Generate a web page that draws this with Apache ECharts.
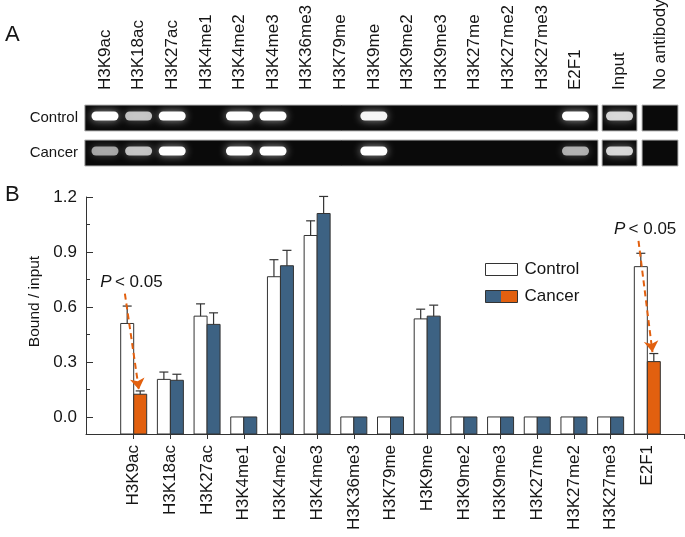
<!DOCTYPE html>
<html><head><meta charset="utf-8">
<script src="https://cdn.jsdelivr.net/npm/echarts@6/dist/echarts.min.js"></script>
<style>html,body{margin:0;padding:0;background:#fff}#c{width:685px;height:537px}</style>
</head><body><div id="c"></div>
<script>
// ---------------- data ----------------
const categories = ['H3K9ac','H3K18ac','H3K27ac','H3K4me1','H3K4me2','H3K4me3','H3K36me3','H3K79me','H3K9me','H3K9me2','H3K9me3','H3K27me','H3K27me2','H3K27me3','E2F1'];
const controlMean = [0.51,0.205,0.55,0,0.765,0.99,0,0,0.535,0,0,0,0,0,0.82];
const controlErr  = [0.095,0.04,0.067,0,0.093,0.08,0,0,0.053,0,0,0,0,0,0.073];
const cancerMean  = [0.124,0.20,0.505,0,0.825,1.11,0,0,0.55,0,0,0,0,0,0.302];
const cancerErr   = [0.018,0.033,0.063,0,0.084,0.093,0,0,0.06,0,0,0,0,0,0.044];
const significant = ['H3K9ac','E2F1'];
const pLabel = '< 0.05';
const yTicks = [0,0.3,0.6,0.9,1.2];
const yMinorTicks = [0.15,0.45,0.75,1.05];
const lanes = ['H3K9ac','H3K18ac','H3K27ac','H3K4me1','H3K4me2','H3K4me3','H3K36me3','H3K79me','H3K9me','H3K9me2','H3K9me3','H3K27me','H3K27me2','H3K27me3','E2F1','Input','No antibody'];
const gelRows = ['Control','Cancer'];
const controlBand = [1,0.7,1,0,1,1,0,0,0.95,0,0,0,0,0,1,0.8,0];
const cancerBand  = [0.55,0.7,1,0,1,1,0,0,1,0,0,0,0,0,0.6,0.8,0];

// ---------------- layout / style ----------------
const FONT = 'Liberation Sans, Arial, sans-serif';
const TXT = '#151515';
const EDGE = '#333';
const BLUE = '#3d6283';
const ORANGE = '#e2600f';
const Y_MIN = -0.093, Y_MAX = 1.2;
const X_MIN = -0.3, X_MAX = 16;
const BAR_W = 13;
const LANE_POS = [0,1,2,3,4,5,6,7,8,9,10,11,12,13,14,15.31,16.52];
const GEL_STRIPS = [[-0.6,14.67],[14.79,15.83],[15.98,17.05]];
const ROW_HALF = 0.371;

const xs = categories.map((c,i)=>i+1);

const errData = [];
categories.forEach((c,i)=>{
  errData.push([xs[i], controlMean[i], controlErr[i], -1]);
  errData.push([xs[i], cancerMean[i], cancerErr[i], 1]);
});

const arrows = [], pTexts = [];
significant.forEach(c=>{
  const i = categories.indexOf(c);
  const ty = controlMean[i] + controlErr[i] + 0.13;
  pTexts.push({coord:[xs[i]-0.06, ty]});
  arrows.push([{coord:[xs[i]-0.24, ty-0.062]},{coord:[xs[i]+0.14, cancerMean[i]+cancerErr[i]+0.008]}]);
});

const stripData = [];
gelRows.forEach((r,ri)=>GEL_STRIPS.forEach(s=>stripData.push([s[0], s[1], ri])));
const bandData = [];
lanes.forEach((l,j)=>{
  bandData.push([LANE_POS[j], 0, controlBand[j]]);
  bandData.push([LANE_POS[j], 1, cancerBand[j]]);
});

const chart = echarts.init(document.getElementById('c'), null, {renderer:'canvas'});
const nearestIdx = (arr, v) => { let b=0; arr.forEach((a,k)=>{ if(Math.abs(a-v)<Math.abs(arr[b]-v)) b=k; }); return b; };

function barRenderer(side){
  return function(params, api){
    const x=api.value(0), v=api.value(1), sig=api.value(2);
    const a=api.coord([x, Y_MIN]), b=api.coord([x, v]);
    const left = a[0] + (side<0 ? -BAR_W : 0);
    const fill = side<0 ? '#fff' : (sig ? ORANGE : BLUE);
    return {type:'rect', shape:{x:left, y:b[1], width:BAR_W, height:a[1]-b[1]},
      style:{fill:fill, stroke:EDGE, lineWidth:1}};
  };
}

chart.setOption({
  animation:false,
  backgroundColor:'#fff',
  textStyle:{fontFamily:FONT},
  title:[
    {text:'A', left:0, top:19, textStyle:{fontSize:22, fontWeight:'normal', color:TXT, fontFamily:FONT}},
    {text:'B', left:0, top:179, textStyle:{fontSize:22, fontWeight:'normal', color:TXT, fontFamily:FONT}}
  ],
  legend:{
    orient:'vertical', left:485, top:261, padding:0, itemWidth:32, itemHeight:12, itemGap:10,
    selectedMode:false,
    textStyle:{fontSize:17, color:TXT, fontFamily:FONT, padding:[0,0,0,2]},
    data:[
      {name:'Control', icon:'rect', itemStyle:{color:'#fff', borderColor:EDGE, borderWidth:1}},
      {name:'Cancer', icon:'rect', itemStyle:{color:new echarts.graphic.LinearGradient(0,0,1,0,[
        {offset:0,color:BLUE},{offset:0.5,color:BLUE},{offset:0.5,color:ORANGE},{offset:1,color:ORANGE}]), borderColor:EDGE, borderWidth:1}}
    ]
  },
  grid:[
    {left:86, right:1, top:197, bottom:103, outerBoundsMode:'none', containLabel:false},
    {left:85, right:7, top:105, bottom:371, outerBoundsMode:'none', containLabel:false}
  ],
  xAxis:[
    {type:'value', gridIndex:0, min:X_MIN, max:X_MAX,
      axisLine:{show:true, onZero:false, lineStyle:{color:EDGE, width:1}},
      axisTick:{show:true, inside:false, length:5, customValues:xs.concat([X_MAX]), lineStyle:{color:EDGE}},
      axisLabel:{show:true, customValues:xs, rotate:90, margin:11, fontSize:17, color:TXT, fontFamily:FONT,
        formatter:v=>categories[nearestIdx(xs, v)]},
      splitLine:{show:false}},
    {type:'value', gridIndex:1, min:-0.595, max:17.05, position:'top',
      axisLine:{show:false}, axisTick:{show:false}, splitLine:{show:false},
      axisLabel:{show:true, customValues:LANE_POS, rotate:90, margin:15, fontSize:17, color:TXT, fontFamily:FONT,
        formatter:v=>lanes[nearestIdx(LANE_POS, v)]}}
  ],
  yAxis:[
    {type:'value', gridIndex:0, min:Y_MIN, max:Y_MAX,
      name:'Bound / input', nameLocation:'middle', nameGap:39, nameRotate:90,
      nameTextStyle:{fontSize:15.5, color:TXT, fontFamily:FONT, padding:[0,0,0,28]},
      axisLine:{show:true, onZero:false, lineStyle:{color:EDGE, width:1}},
      axisTick:{show:true, inside:true, length:7, customValues:yTicks, lineStyle:{color:EDGE}},
      axisLabel:{show:true, customValues:yTicks, margin:9, fontSize:17, color:TXT, fontFamily:FONT,
        formatter:v=>v.toFixed(1)},
      splitLine:{show:false}},
    {type:'value', gridIndex:0, min:Y_MIN, max:Y_MAX, position:'left', offset:0,
      axisLine:{show:false, onZero:false},
      axisTick:{show:true, inside:true, length:4, customValues:yMinorTicks, lineStyle:{color:EDGE}},
      axisLabel:{show:false}, splitLine:{show:false}},
    {type:'value', gridIndex:1, min:-ROW_HALF, max:1+ROW_HALF, inverse:true,
      axisLine:{show:false}, axisTick:{show:false}, splitLine:{show:false},
      axisLabel:{show:true, customValues:[0,1], margin:7, fontSize:15, color:TXT, fontFamily:FONT,
        formatter:v=>gelRows[Math.round(v)]}}
  ],
  series:[
    {type:'custom', name:'Control', xAxisIndex:0, yAxisIndex:0, z:2,
      itemStyle:{color:'#fff', borderColor:EDGE, borderWidth:1},
      data:categories.map((c,i)=>[xs[i], controlMean[i], 0]),
      renderItem:barRenderer(-1)},
    {type:'custom', name:'Cancer', xAxisIndex:0, yAxisIndex:0, z:2,
      itemStyle:{color:BLUE, borderColor:EDGE, borderWidth:1},
      data:categories.map((c,i)=>[xs[i], cancerMean[i], significant.includes(c)?1:0]),
      renderItem:barRenderer(1),
      markLine:{silent:true, symbol:['none','arrow'], symbolSize:11,
        lineStyle:{color:ORANGE, type:[6,4], width:2}, label:{show:false}, data:arrows},
      markPoint:{silent:true, symbol:'rect', symbolSize:1, itemStyle:{color:'rgba(0,0,0,0)'},
        label:{show:true, position:'inside', formatter:'{i|P} {n|'+pLabel+'}',
          rich:{i:{fontStyle:'italic', fontSize:17, color:TXT, fontFamily:FONT},
                n:{fontSize:17, color:TXT, fontFamily:FONT}}},
        data:pTexts}},
    {type:'custom', name:'err', xAxisIndex:0, yAxisIndex:0, silent:true, z:3,
      data:errData,
      renderItem:function(params, api){
        const x=api.value(0), m=api.value(1), e=api.value(2), side=api.value(3);
        if(!(e>0)) return;
        const p=api.coord([x,m]), q=api.coord([x,m+e]);
        const cx=p[0]+side*BAR_W/2;
        return {type:'group', children:[
          {type:'line', shape:{x1:cx,y1:p[1],x2:cx,y2:q[1]}, style:{stroke:EDGE,lineWidth:1.2}},
          {type:'line', shape:{x1:cx-4.5,y1:q[1],x2:cx+4.5,y2:q[1]}, style:{stroke:EDGE,lineWidth:1.2}}
        ]};
      }},
    {type:'custom', name:'gel', xAxisIndex:1, yAxisIndex:2, silent:true, z:1,
      data:stripData,
      renderItem:function(params, api){
        const a=api.coord([api.value(0), api.value(2)-ROW_HALF]);
        const b=api.coord([api.value(1), api.value(2)+ROW_HALF]);
        return {type:'rect', shape:{x:a[0], y:Math.min(a[1],b[1]), width:b[0]-a[0], height:Math.abs(b[1]-a[1])},
          style:{fill:'#0a0a0a', stroke:'#b5b5b5', lineWidth:1}};
      }},
    {type:'custom', name:'bands', xAxisIndex:1, yAxisIndex:2, silent:true, z:2,
      data:bandData,
      renderItem:function(params, api){
        const k=api.value(2);
        if(!(k>0)) return;
        const c=api.coord([api.value(0), api.value(1)]);
        const w=27, h=9;
        const g = Math.round(150+105*k);
        return {type:'rect', shape:{x:c[0]-w/2, y:c[1]-2-h/2, width:w, height:h, r:4.5},
          style:{fill:'rgba('+g+','+g+','+g+','+(0.45+0.55*k)+')', shadowBlur:8, shadowColor:'rgba(255,255,255,'+(0.6*k)+')'}};
      }}
  ]
});
</script></body></html>
